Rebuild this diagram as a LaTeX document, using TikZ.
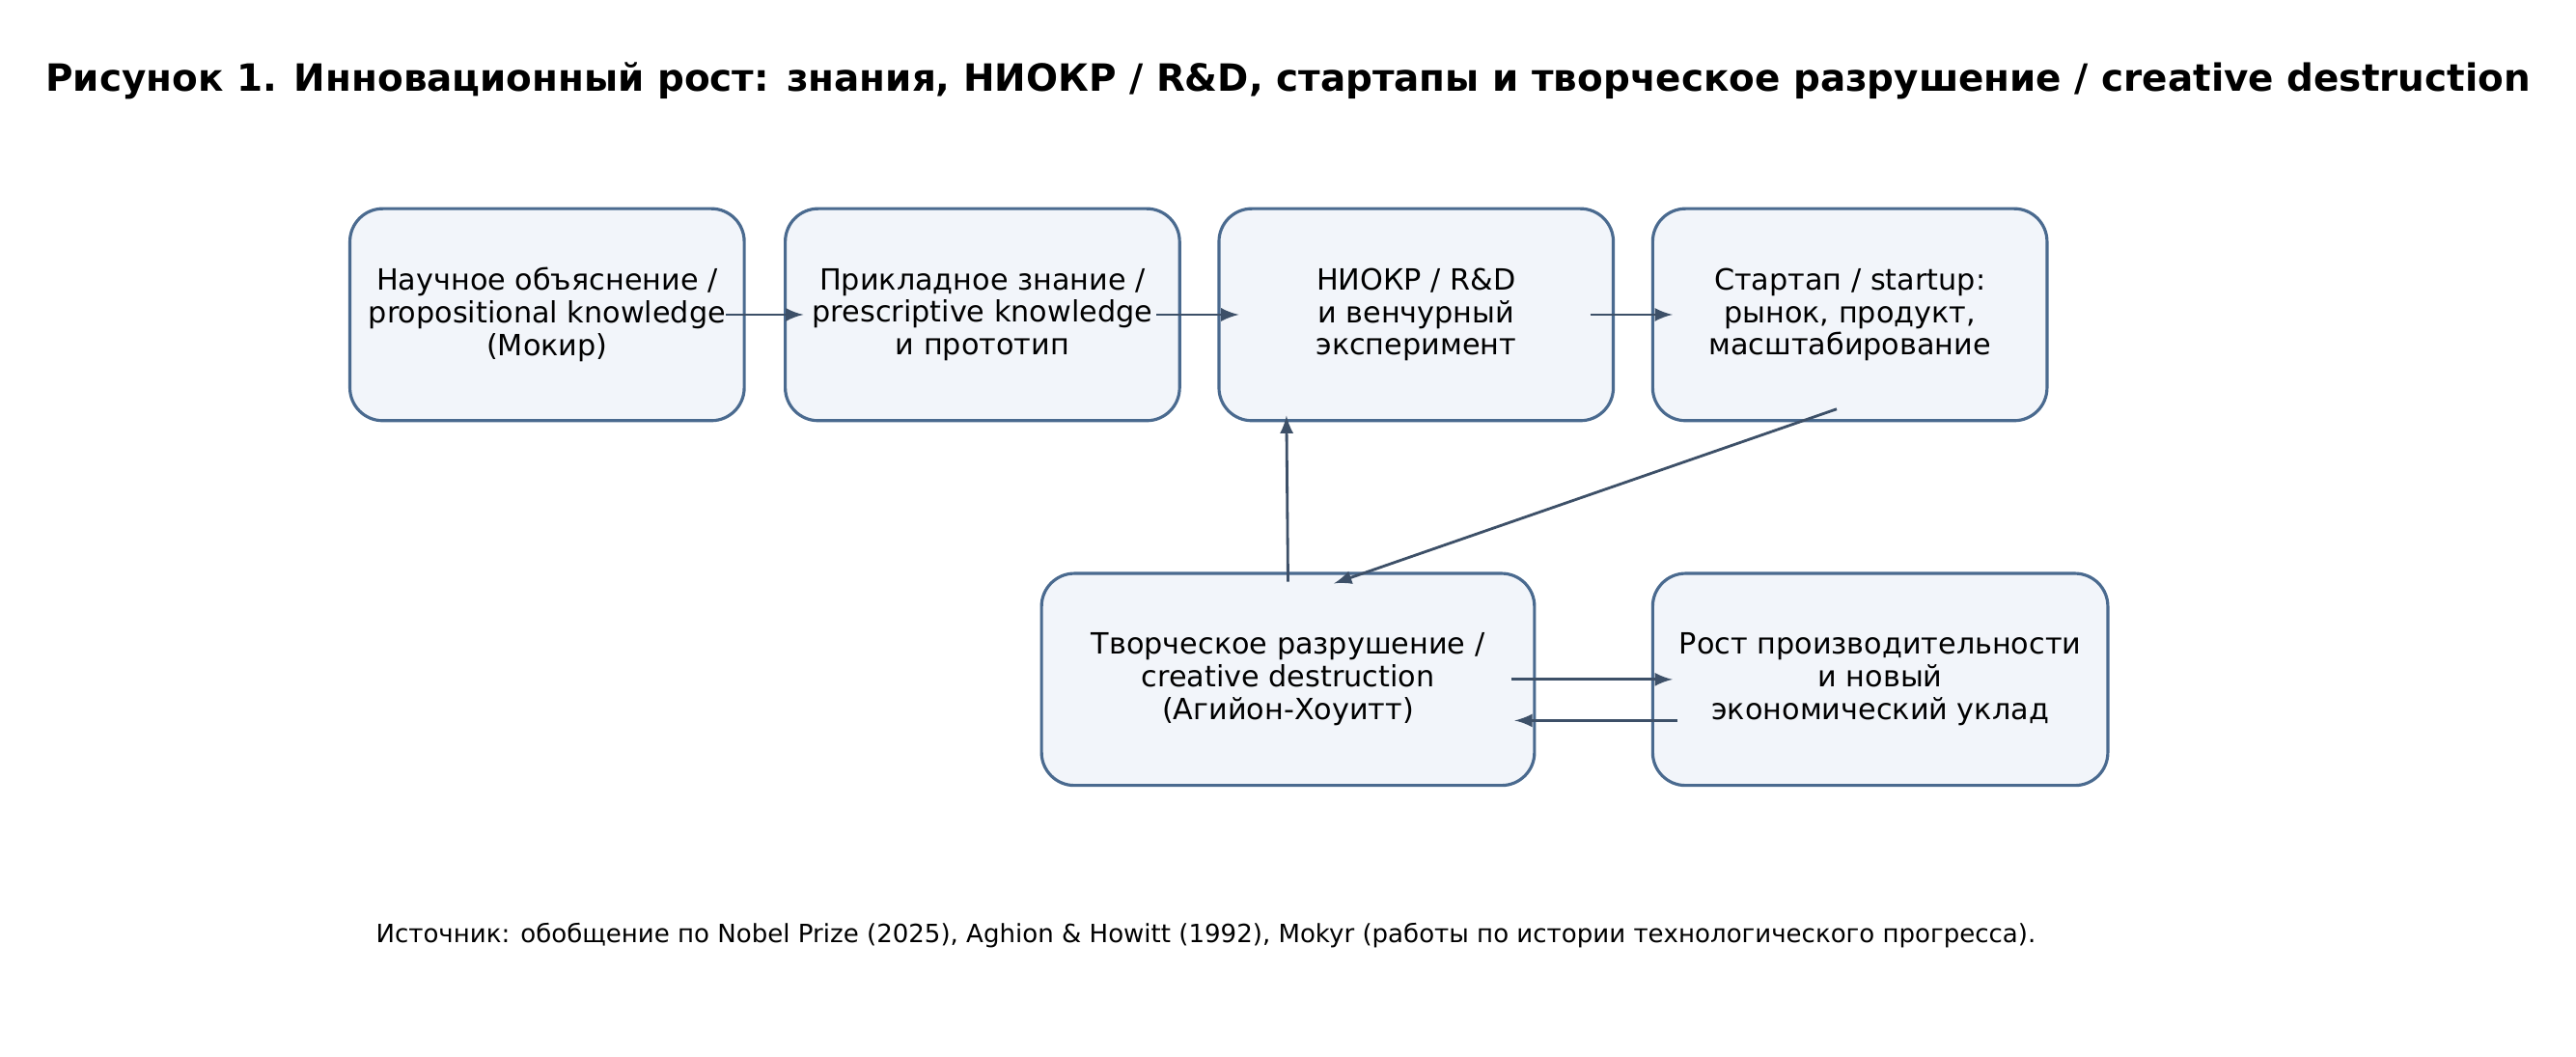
\documentclass[tikz,border=0pt]{standalone}
\usepackage{fontspec}
\setmainfont{DejaVu Sans}
\usetikzlibrary{calc}
\definecolor{boxedge}{HTML}{4A6A8F}
\definecolor{boxfill}{HTML}{F2F5FA}
\definecolor{arrowcol}{HTML}{3D5068}
\tikzset{
  stage/.style={draw=boxedge, fill=boxfill, line width=0.9pt, rounded corners=0.34cm,
    minimum height=2.193cm, align=center, inner sep=0pt,
    font=\fontsize{8.6}{9.6}\selectfont},
  flow/.style={-latex, draw=arrowcol, line width=0.8pt}
}
\begin{document}
\begin{tikzpicture}[x={(0.017cm,0)}, y={(0,-0.017cm)}]
        \useasboundingbox (0,0) rectangle (1568,643);

        % Title
        \node (title) at (784,49) {\fontsize{11.05}{12}\selectfont\bfseries Рисунок 1. Инновационный рост: знания, НИОКР / R\&D, стартапы и творческое разрушение / creative destruction};

        % Upper row
        \node[stage, minimum width=4.08cm] (science) at (333,191.5) {Научное объяснение /\\propositional knowledge\\(Мокир)};
        \node[stage, minimum width=4.08cm] (applied) at (598,191.5) {Прикладное знание /\\prescriptive knowledge\\и прототип};
        \node[stage, minimum width=4.08cm] (rnd) at (862,191.5) {НИОКР / R\&D\\и венчурный\\эксперимент};
        \node[stage, minimum width=4.08cm] (startup) at (1126,191.5) {Стартап / startup:\\рынок, продукт,\\масштабирование};

        % Lower row
        \node[stage, minimum width=5.1cm] (destr) at (784,413.5) {Творческое разрушение /\\creative destruction\\(Агийон-Хоуитт)};
        \node[stage, minimum width=4.709cm] (growth) at (1144.5,413.5) {Рост производительности\\и новый\\экономический уклад};

        % Flows
        \draw[flow] ($(science.east)+(-12,0)$) -- ($(applied.west)+(12,0)$);
        \draw[flow] ($(applied.east)+(-15,0)$) -- ($(rnd.west)+(13,0)$);
        \draw[flow] ($(rnd.east)+(-15,0)$) -- ($(startup.west)+(13,0)$);
        \draw[flow] ($(startup.south)+(-8,-8)$) -- ($(destr.north)+(28,7)$);
        \draw[flow] ($(destr.north)+(0,6)$) -- ($(rnd.south west)+(42,-4)$);
        \draw[flow] ($(destr.east)+(-15,0)$) -- ($(growth.west)+(13,0)$);
        \draw[flow] ($(growth.west)+(16,25)$) -- ($(destr.east)+(-13,25)$);

        % Source
        \node (source) at (734,569.5) {\fontsize{7.4}{9}\selectfont Источник: обобщение по Nobel Prize (2025), Aghion \& Howitt (1992), Mokyr (работы по истории технологического прогресса).};
\end{tikzpicture}
\end{document}
